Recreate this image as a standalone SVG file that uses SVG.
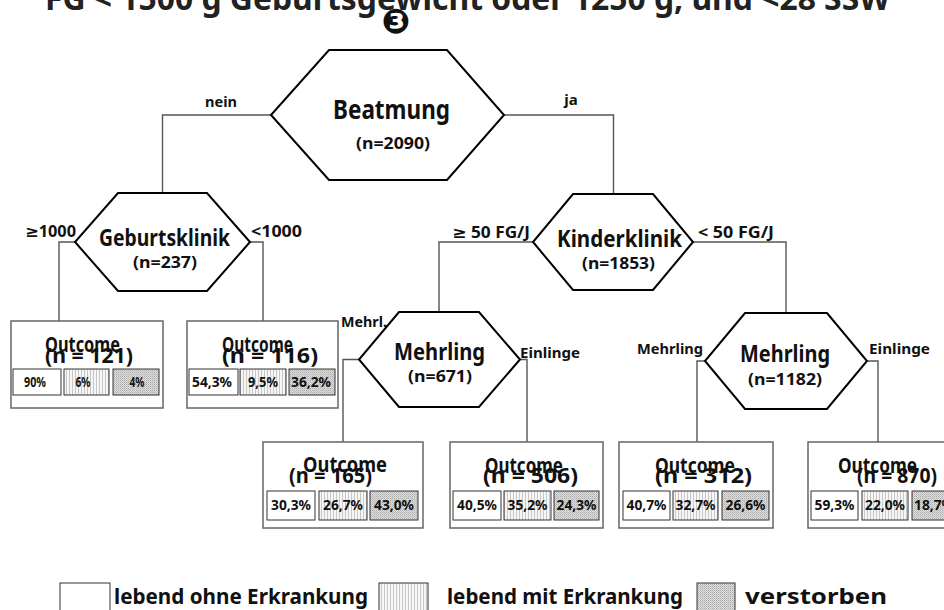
<svg xmlns="http://www.w3.org/2000/svg" width="944" height="610" viewBox="0 0 944 610">
  <defs>
    <!-- fine vertical stripes: "lebend mit Erkrankung" -->
    <pattern id="stripes" width="3" height="3" patternUnits="userSpaceOnUse">
      <rect width="3" height="3" fill="#f6f6f6"/>
      <rect x="0" width="1" height="3" fill="#c8c8c8"/>
    </pattern>
    <!-- stipple: "verstorben" -->
    <pattern id="stipple" width="2" height="2" patternUnits="userSpaceOnUse">
      <rect width="2" height="2" fill="#dedede"/>
      <rect x="0" y="0" width="1" height="1" fill="#ababab"/>
      <rect x="1" y="1" width="1" height="1" fill="#c2c2c2"/>
    </pattern>
    <style>
      text { font-family: "Noto Sans", "DejaVu Sans", sans-serif; font-weight: bold; fill: #111; }
      .hex { fill: #fff; stroke: #000; stroke-width: 2; }
      .conn { fill: none; stroke: #555; stroke-width: 1.4; }
      .box { fill: #fff; stroke: #666; stroke-width: 1.5; }
      .c1 { fill: #fff; stroke: #333; stroke-width: 1; }
      .c2 { fill: url(#stripes); stroke: #333; stroke-width: 1; }
      .c3 { fill: url(#stipple); stroke: #333; stroke-width: 1; }
      .title { font-size: 32px; fill: #222; }
      .big { font-size: 24px; text-anchor: middle; }
      .n { font-size: 16px; text-anchor: middle; }
      .edge { font-size: 15px; text-anchor: middle; }
      .small { font-size: 14px; text-anchor: middle; }
      .oc { font-size: 21px; }
      .pct { font-size: 14px; text-anchor: middle; }
      .leg { font-size: 21px; }
    </style>
  </defs>

  <rect width="944" height="610" fill="#fff"/>

  <!-- heading (runs off the top edge) -->
  <text class="title" x="45" y="10" textLength="845" lengthAdjust="spacingAndGlyphs">FG &lt; 1500 g Geburtsgewicht oder 1250 g, und &lt;28 SSW</text>
  <text x="396" y="33" style="font-family: 'DejaVu Sans', sans-serif; font-size: 34px; text-anchor: middle;">❸</text>

  <!-- connectors -->
  <g id="connectors">
    <polyline class="conn" points="271,115 162.5,115 162.5,193"/>
    <polyline class="conn" points="504,115 613.5,115 613.5,194"/>
    <polyline class="conn" points="75,242 59,242 59,321"/>
    <polyline class="conn" points="250,242 263,242 263,321"/>
    <polyline class="conn" points="533,242 439,242 439,312"/>
    <polyline class="conn" points="693,242 786,242 786,313"/>
    <polyline class="conn" points="359,359.5 343,359.5 343,442"/>
    <polyline class="conn" points="520,359.5 527,359.5 527,442"/>
    <polyline class="conn" points="705,361 697,361 697,442"/>
    <polyline class="conn" points="867,361 878,361 878,442"/>
    <text class="edge" x="221" y="107" textLength="32" lengthAdjust="spacingAndGlyphs">nein</text>
    <text class="edge" x="571" y="105">ja</text>
    <text class="edge" x="50.5" y="237" style="font-size:16px" textLength="51" lengthAdjust="spacingAndGlyphs">≥1000</text>
    <text class="edge" x="276.5" y="237" style="font-size:16px" textLength="51" lengthAdjust="spacingAndGlyphs">&lt;1000</text>
    <text class="edge" x="491" y="238" style="font-size:16px" textLength="78" lengthAdjust="spacingAndGlyphs">≥ 50 FG/J</text>
    <text class="edge" x="736" y="238" style="font-size:16px" textLength="76" lengthAdjust="spacingAndGlyphs">&lt; 50 FG/J</text>
    <text class="small" x="364" y="327" textLength="46" lengthAdjust="spacingAndGlyphs">Mehrl.</text>
    <text class="edge" x="550" y="358" textLength="60" lengthAdjust="spacingAndGlyphs">Einlinge</text>
    <text class="edge" x="670" y="354" textLength="66" lengthAdjust="spacingAndGlyphs">Mehrling</text>
    <text class="edge" x="899.5" y="354" textLength="61" lengthAdjust="spacingAndGlyphs">Einlinge</text>
  </g>

  <!-- decision nodes -->
  <g id="node-beatmung">
    <polygon class="hex" points="329,50 447,50 504,115 447,180 329,180 271,115"/>
    <text class="big" x="391.5" y="119" style="font-size:26px" textLength="117" lengthAdjust="spacingAndGlyphs">Beatmung</text>
    <text class="n" x="393" y="149" textLength="74" lengthAdjust="spacingAndGlyphs">(n=2090)</text>
  </g>
  <g id="node-geburtsklinik">
    <polygon class="hex" points="118,193 207,193 250,242 207,291 118,291 75,242"/>
    <text class="big" x="164.5" y="246" textLength="131" lengthAdjust="spacingAndGlyphs">Geburtsklinik</text>
    <text class="n" x="165" y="268" textLength="64" lengthAdjust="spacingAndGlyphs">(n=237)</text>
  </g>
  <g id="node-kinderklinik">
    <polygon class="hex" points="573,194 653,194 693,242 653,290 573,290 533,242"/>
    <text class="big" x="619.5" y="247" textLength="125" lengthAdjust="spacingAndGlyphs">Kinderklinik</text>
    <text class="n" x="618.5" y="269" textLength="73" lengthAdjust="spacingAndGlyphs">(n=1853)</text>
  </g>
  <g id="node-mehrling-1">
    <polygon class="hex" points="399,312 479,312 520,359.5 479,407 399,407 359,359.5"/>
    <text class="big" x="439.5" y="360" textLength="91" lengthAdjust="spacingAndGlyphs">Mehrling</text>
    <text class="n" x="440" y="382" textLength="64" lengthAdjust="spacingAndGlyphs">(n=671)</text>
  </g>
  <g id="node-mehrling-2">
    <polygon class="hex" points="745,313 827,313 867,361 827,409 745,409 705,361"/>
    <text class="big" x="785" y="362" textLength="90" lengthAdjust="spacingAndGlyphs">Mehrling</text>
    <text class="n" x="785" y="385" textLength="74" lengthAdjust="spacingAndGlyphs">(n=1182)</text>
  </g>

  <!-- outcome leaves -->
  <g id="outcome-121">
    <rect class="box" x="11" y="321" width="152" height="87"/>
    <text class="oc" x="45" y="352" textLength="75" lengthAdjust="spacingAndGlyphs">Outcome</text>
    <text class="oc" x="45" y="363" textLength="88" lengthAdjust="spacingAndGlyphs">(n = 121)</text>
    <rect class="c1" x="13" y="369" width="48" height="26"/>
    <rect class="c2" x="64" y="369" width="45" height="26"/>
    <rect class="c3" x="113" y="369" width="46" height="26"/>
    <text class="pct" x="35" y="387" textLength="22" lengthAdjust="spacingAndGlyphs">90%</text>
    <text class="pct" x="83" y="387" textLength="15" lengthAdjust="spacingAndGlyphs">6%</text>
    <text class="pct" x="137" y="387" textLength="15" lengthAdjust="spacingAndGlyphs">4%</text>
  </g>
  <g id="outcome-116">
    <rect class="box" x="187" y="321" width="151" height="87"/>
    <text class="oc" x="222" y="352" textLength="71" lengthAdjust="spacingAndGlyphs">Outcome</text>
    <text class="oc" x="222" y="363" textLength="96" lengthAdjust="spacingAndGlyphs">(n = 116)</text>
    <rect class="c1" x="189" y="369" width="49" height="26"/>
    <rect class="c2" x="240" y="369" width="46" height="26"/>
    <rect class="c3" x="289" y="369" width="46" height="26"/>
    <text class="pct" x="212" y="387" textLength="40" lengthAdjust="spacingAndGlyphs">54,3%</text>
    <text class="pct" x="263" y="387" textLength="30" lengthAdjust="spacingAndGlyphs">9,5%</text>
    <text class="pct" x="311" y="387" textLength="40" lengthAdjust="spacingAndGlyphs">36,2%</text>
  </g>
  <g id="outcome-165">
    <rect class="box" x="263" y="442" width="160" height="86"/>
    <text class="oc" x="303" y="472" textLength="84" lengthAdjust="spacingAndGlyphs">Outcome</text>
    <text class="oc" x="289" y="483" textLength="83" lengthAdjust="spacingAndGlyphs">(n = 165)</text>
    <rect class="c1" x="267" y="491" width="48" height="29"/>
    <rect class="c2" x="319" y="491" width="48" height="29"/>
    <rect class="c3" x="370" y="491" width="48" height="29"/>
    <text class="pct" x="291" y="510" textLength="40" lengthAdjust="spacingAndGlyphs">30,3%</text>
    <text class="pct" x="343" y="510" textLength="40" lengthAdjust="spacingAndGlyphs">26,7%</text>
    <text class="pct" x="394" y="510" textLength="40" lengthAdjust="spacingAndGlyphs">43,0%</text>
  </g>
  <g id="outcome-506">
    <rect class="box" x="450" y="442" width="153" height="86"/>
    <text class="oc" x="485" y="473" textLength="78" lengthAdjust="spacingAndGlyphs">Outcome</text>
    <text class="oc" x="483" y="483" textLength="95" lengthAdjust="spacingAndGlyphs">(n = 506)</text>
    <rect class="c1" x="453" y="491" width="48" height="29"/>
    <rect class="c2" x="504" y="491" width="47" height="29"/>
    <rect class="c3" x="554" y="491" width="45" height="29"/>
    <text class="pct" x="477" y="510" textLength="40" lengthAdjust="spacingAndGlyphs">40,5%</text>
    <text class="pct" x="527.5" y="510" textLength="40" lengthAdjust="spacingAndGlyphs">35,2%</text>
    <text class="pct" x="576.5" y="510" textLength="40" lengthAdjust="spacingAndGlyphs">24,3%</text>
  </g>
  <g id="outcome-312">
    <rect class="box" x="619" y="442" width="154" height="86"/>
    <text class="oc" x="655" y="473" textLength="80" lengthAdjust="spacingAndGlyphs">Outcome</text>
    <text class="oc" x="655" y="483" textLength="97" lengthAdjust="spacingAndGlyphs">(n = 312)</text>
    <rect class="c1" x="623" y="491" width="47" height="29"/>
    <rect class="c2" x="673" y="491" width="45" height="29"/>
    <rect class="c3" x="722" y="491" width="47" height="29"/>
    <text class="pct" x="646.5" y="510" textLength="40" lengthAdjust="spacingAndGlyphs">40,7%</text>
    <text class="pct" x="695.5" y="510" textLength="40" lengthAdjust="spacingAndGlyphs">32,7%</text>
    <text class="pct" x="745.5" y="510" textLength="40" lengthAdjust="spacingAndGlyphs">26,6%</text>
  </g>
  <g id="outcome-870">
    <rect class="box" x="808" y="442" width="154" height="86"/>
    <text class="oc" x="838" y="473" textLength="79" lengthAdjust="spacingAndGlyphs">Outcome</text>
    <text class="oc" x="857" y="483" textLength="80" lengthAdjust="spacingAndGlyphs">(n = 870)</text>
    <rect class="c1" x="811" y="491" width="47" height="29"/>
    <rect class="c2" x="862" y="491" width="46" height="29"/>
    <rect class="c3" x="912" y="491" width="46" height="29"/>
    <text class="pct" x="834.5" y="510" textLength="40" lengthAdjust="spacingAndGlyphs">59,3%</text>
    <text class="pct" x="885" y="510" textLength="40" lengthAdjust="spacingAndGlyphs">22,0%</text>
    <text class="pct" x="934" y="510" textLength="40" lengthAdjust="spacingAndGlyphs">18,7%</text>
  </g>

  <!-- key -->
  <g id="legend">
    <rect class="c1" x="60" y="583" width="50" height="30"/>
    <text class="leg" x="114" y="604" textLength="254" lengthAdjust="spacingAndGlyphs">lebend ohne Erkrankung</text>
    <rect class="c2" x="379" y="583" width="49" height="30"/>
    <text class="leg" x="447" y="604" textLength="236" lengthAdjust="spacingAndGlyphs">lebend mit Erkrankung</text>
    <rect class="c3" x="697" y="583" width="38" height="30"/>
    <text class="leg" x="745" y="604" textLength="142" lengthAdjust="spacingAndGlyphs">verstorben</text>
  </g>
</svg>
